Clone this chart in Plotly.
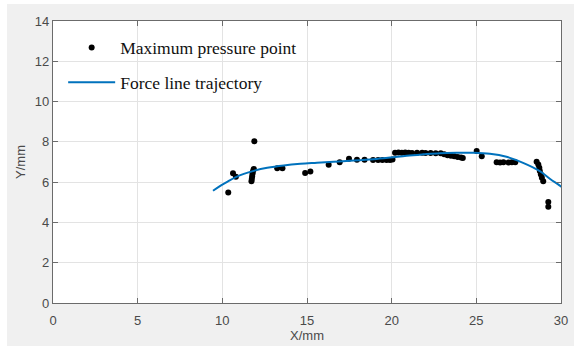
import plotly.graph_objects as go

# Maximum pressure points (X/mm, Y/mm)
pts_x = [10.35, 10.63, 10.80, 11.89,
         11.72, 11.74, 11.76, 11.78, 11.80, 11.84, 11.86,
         13.24, 13.55, 14.89, 15.20, 16.28, 16.93, 17.48, 17.95, 18.40,
         18.90, 19.20, 19.45, 19.70, 19.90, 20.05,
         20.20, 20.40, 20.60, 20.80, 21.00, 21.20, 21.50, 21.80, 22.00, 22.30, 22.60, 22.90,
         23.10, 23.30, 23.50, 23.70, 23.90, 24.10, 24.20,
         25.02, 25.32,
         26.20, 26.40, 26.60, 26.90, 27.10, 27.30,
         28.56, 28.66, 28.72, 28.75, 28.81, 28.87, 28.95,
         29.25, 29.25]
pts_y = [5.49, 6.44, 6.27, 8.03,
         6.05, 6.15, 6.28, 6.40, 6.50, 6.60, 6.65,
         6.69, 6.69, 6.46, 6.53, 6.86, 6.99, 7.16, 7.11, 7.11,
         7.10, 7.10, 7.10, 7.10, 7.10, 7.12,
         7.46, 7.47, 7.46, 7.47, 7.46, 7.45, 7.46, 7.46, 7.45, 7.45, 7.44, 7.43,
         7.38, 7.34, 7.31, 7.28, 7.25, 7.22, 7.20,
         7.54, 7.29,
         6.99, 6.98, 6.99, 6.98, 6.99, 6.99,
         7.01, 6.88, 6.71, 6.55, 6.38, 6.22, 6.05,
         5.01, 4.78]

# Force line trajectory
line_x = [9.45, 9.90, 10.35, 10.80, 11.27, 11.86, 12.65, 13.63, 14.61, 15.59, 16.57,
          17.55, 18.93, 19.91, 20.89, 21.87, 22.85, 23.84, 24.82, 25.80, 26.78,
          27.76, 28.75, 29.34, 29.93, 30.20]
line_y = [5.57, 5.83, 6.05, 6.25, 6.41, 6.56, 6.71, 6.83, 6.91, 6.96, 7.01,
          7.06, 7.14, 7.22, 7.31, 7.38, 7.44, 7.46, 7.46, 7.41, 7.26,
          6.96, 6.55, 6.17, 5.83, 5.66]

x_ticks = [0, 5, 10, 15, 20, 25, 30]
y_ticks = [0, 2, 4, 6, 8, 10, 12, 14]

fig = go.Figure()
fig.add_trace(go.Scatter(
    x=pts_x, y=pts_y, mode="markers", name="Maximum pressure point",
    marker=dict(color="black", size=6), legendgroup="a"))
fig.add_trace(go.Scatter(
    x=line_x, y=line_y, mode="lines", name="Force line trajectory",
    line=dict(color="#0072BD", width=2, shape="spline"), legendgroup="b"))

axis_common = dict(
    showline=True, linecolor="#6b6b6b", linewidth=1.2, mirror="ticks",
    ticks="inside", ticklen=5, tickcolor="#6b6b6b", automargin=False,
    showgrid=True, gridcolor="#e3e3e3", gridwidth=1, zeroline=False,
    tickfont=dict(family="Liberation Sans, Arial", size=13, color="#4a4a4a"),
)

fig.update_layout(
    width=574, height=346,
    margin=dict(l=53, r=13, t=21, b=43, autoexpand=False),
    paper_bgcolor="#f0f0f0", plot_bgcolor="white",
    xaxis=dict(range=[0, 30], tickvals=x_ticks, ticklabelstandoff=5, **axis_common,
               title=dict(text="X/mm", standoff=2,
                          font=dict(family="Liberation Sans, Arial", size=13, color="#4a4a4a"))),
    yaxis=dict(range=[0, 14], tickvals=y_ticks, **axis_common,
               title=dict(text="Y/mm", standoff=6,
                          font=dict(family="Liberation Sans, Arial", size=13, color="#4a4a4a"))),
    legend=dict(x=0.02, y=0.969, xanchor="left", yanchor="top",
                bgcolor="rgba(0,0,0,0)", borderwidth=0,
                itemwidth=47, tracegroupgap=9,
                font=dict(family="Liberation Serif, Times New Roman", size=17.5, color="#111")),
    showlegend=True,
    shapes=[
        dict(type="rect", xref="paper", yref="paper", x0=-0.12, x1=(7 - 53) / 508,
             y0=-0.2, y1=1.2, fillcolor="white", line=dict(width=0), layer="below"),
        dict(type="rect", xref="paper", yref="paper", x0=-0.12, x1=1.1,
             y0=(303 - 4) / 282, y1=1.2, fillcolor="white", line=dict(width=0), layer="below"),
    ],
)

fig.write_html("out.html", config={"displayModeBar": False},
               post_script="document.body.style.margin='0';document.body.style.overflow='hidden';")
